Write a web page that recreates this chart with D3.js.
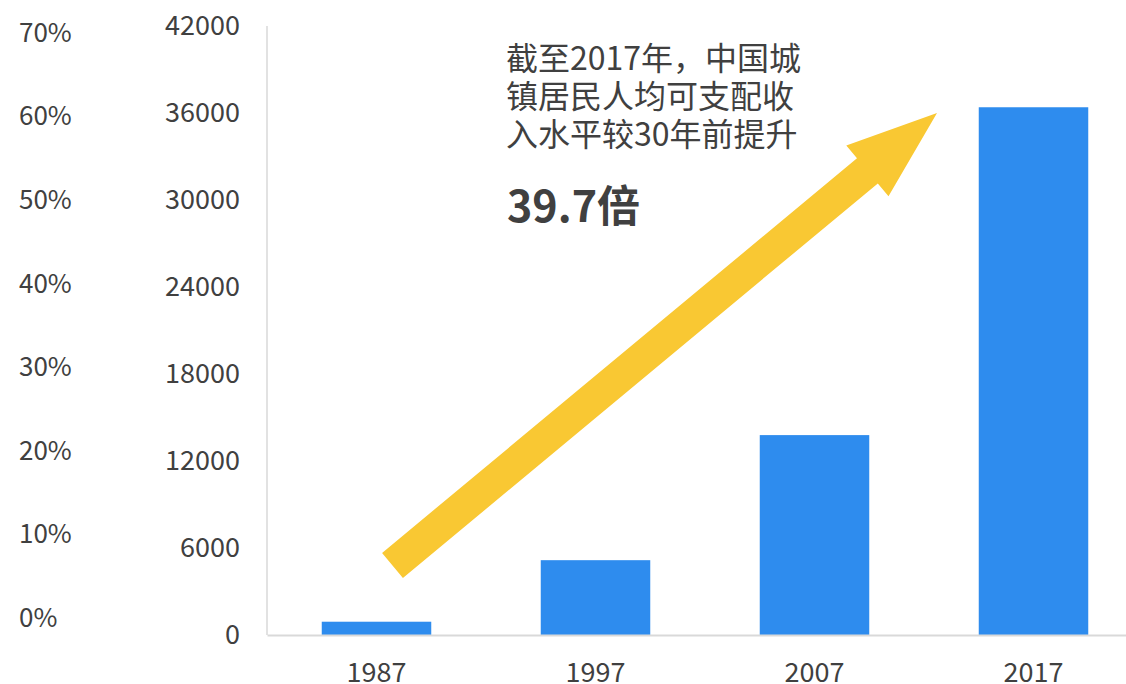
<!DOCTYPE html>
<html>
<head>
<meta charset="utf-8">
<script src="https://cdn.jsdelivr.net/npm/d3@7"></script>
<style>
  body { margin: 0; background: #fff; }
  svg { display: block; font-family: "Noto Sans CJK SC", "Noto Sans", sans-serif; }
  .tick text { fill: #404040; font-size: 27px; font-family: "Noto Sans CJK SC", "Noto Sans", sans-serif; }
  .pct .tick text { font-size: 26px; }
  .note { fill: #404040; font-size: 32px; }
  .big { fill: #404040; font-size: 43px; font-weight: bold; }
</style>
</head>
<body>
<svg id="chart"></svg>
<script>
// urban per-capita disposable income (yuan)
var years = ["1987", "1997", "2007", "2017"];
var income = [916, 5160, 13786, 36396];

var incomeTicks = [0, 6000, 12000, 18000, 24000, 30000, 36000, 42000];
var pctTicks = [0, 0.1, 0.2, 0.3, 0.4, 0.5, 0.6, 0.7];

var noteLines = ["截至2017年，中国城", "镇居民人均可支配收", "入水平较30年前提升"];
var noteBig = "39.7倍";

var width = 1126, height = 684;

var svg = d3.select("#chart")
  .attr("width", width)
  .attr("height", height);

//Scales
var x = d3.scaleBand().domain(years).range([267, 1143]).paddingInner(0.5).paddingOuter(0.25);
var y = d3.scaleLinear().domain([0, 42000]).range([635, 26]);
var yPct = d3.scaleLinear().domain([0, 0.7]).range([618, 33]);

//Percent axis (no series on it)
var pctAxis = svg.append("g")
  .attr("class", "pct")
  .attr("transform", "translate(19,0)")
  .call(d3.axisRight(yPct).tickValues(pctTicks).tickSize(0).tickPadding(0).tickFormat(d3.format(".0%")));
pctAxis.select(".domain").remove();

//Income axis
var incAxis = svg.append("g")
  .attr("transform", "translate(267,0)")
  .call(d3.axisLeft(y).tickValues(incomeTicks).tickSize(0).tickPadding(27).tickFormat(d3.format("d")));
incAxis.select(".domain").remove();

//Left plot border
svg.append("line")
  .attr("x1", 267).attr("x2", 267)
  .attr("y1", y(42000)).attr("y2", y(0))
  .style("stroke", "#d9d9d9")
  .style("stroke-width", 1.5);

//Bars
svg.selectAll(".bar")
  .data(years)
  .enter().append("rect")
    .attr("class", "bar")
    .attr("x", function(d){ return x(d); })
    .attr("width", x.bandwidth())
    .attr("y", function(d, i){ return y(income[i]); })
    .attr("height", function(d, i){ return y(0) - y(income[i]); })
    .style("fill", "#2e8cee");

//X axis
var xAxis = svg.append("g")
  .attr("transform", "translate(0," + y(0) + ")")
  .call(d3.axisBottom(x).tickSize(0).tickPadding(28));
xAxis.select(".domain")
  .style("stroke", "#d9d9d9")
  .style("stroke-width", 2);

//Arrow annotation
var tail = [392.5, 565.5], tip = [937, 113];
var shaftW = 32.6, headW = 66, headL = 90.5;
var dx = tip[0] - tail[0], dy = tip[1] - tail[1];
var len = Math.sqrt(dx * dx + dy * dy);
var ux = dx / len, uy = dy / len, px = -uy, py = ux;
var base = [tip[0] - ux * headL, tip[1] - uy * headL];
function pt(c, s){ return [c[0] + px * s, c[1] + py * s]; }
var arrowPts = [
  pt(tail, shaftW / 2), pt(base, shaftW / 2), pt(base, headW / 2),
  tip,
  pt(base, -headW / 2), pt(base, -shaftW / 2), pt(tail, -shaftW / 2)
];
svg.append("path")
  .attr("d", d3.line()(arrowPts) + "Z")
  .style("fill", "#f9c833");

//Note text
svg.selectAll(".note")
  .data(noteLines)
  .enter().append("text")
    .attr("class", "note")
    .attr("x", 506)
    .attr("y", function(d, i){ return 70 + i * 38; })
    .text(function(d){ return d; });

svg.append("text")
  .attr("class", "big")
  .attr("x", 507)
  .attr("y", 222)
  .text(noteBig);
</script>
</body>
</html>
